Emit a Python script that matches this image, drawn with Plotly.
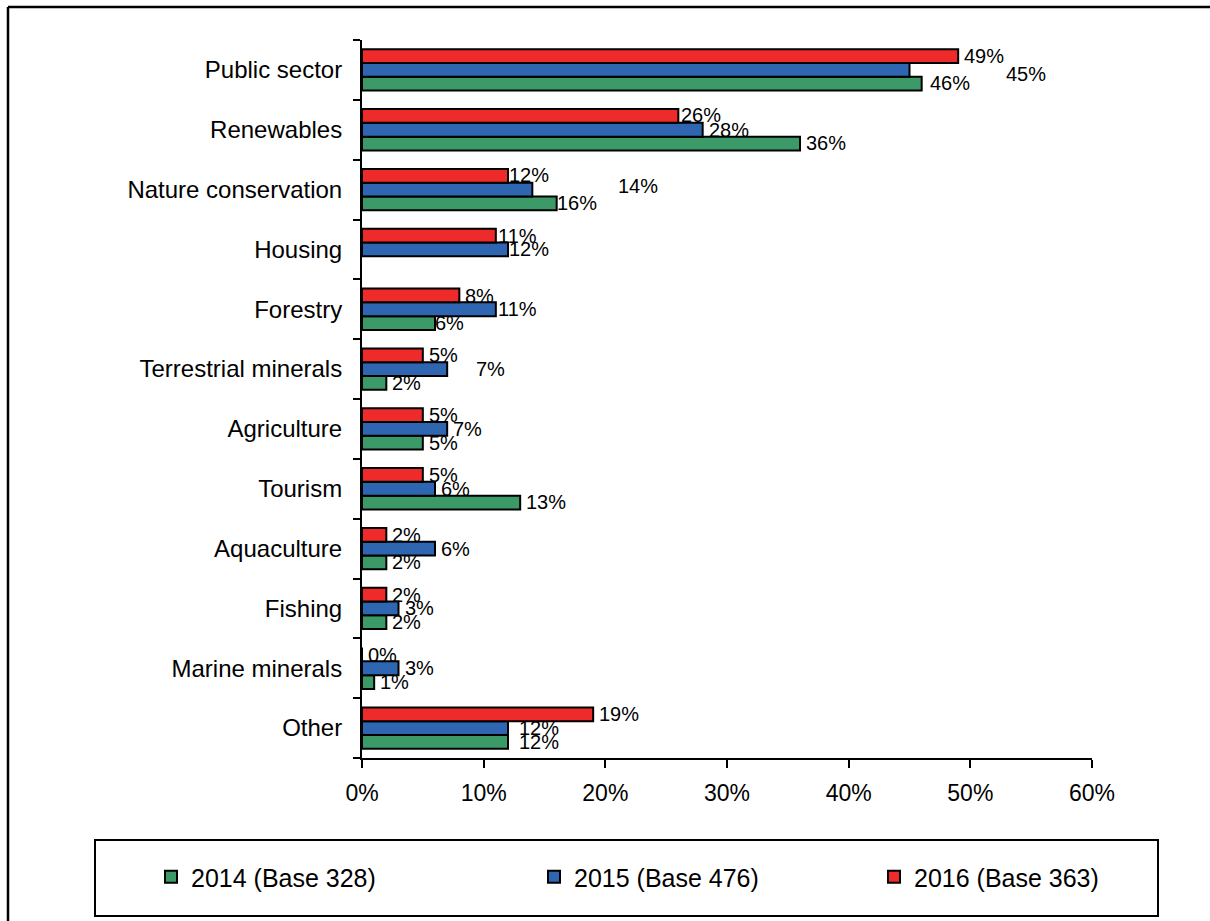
import plotly.graph_objects as go

# ---- data -------------------------------------------------------------
categories = [
    "Public sector", "Renewables", "Nature conservation", "Housing",
    "Forestry", "Terrestrial minerals", "Agriculture", "Tourism",
    "Aquaculture", "Fishing", "Marine minerals", "Other",
]
values_2014 = [46, 36, 16, None, 6, 2, 5, 13, 2, 2, 1, 12]
values_2015 = [45, 28, 14, 12, 11, 7, 7, 6, 6, 3, 3, 12]
values_2016 = [49, 26, 12, 11, 8, 5, 5, 5, 2, 2, 0, 19]
series_names = ["2014 (Base 328)", "2015 (Base 476)", "2016 (Base 363)"]
x_tick_values = [0, 10, 20, 30, 40, 50, 60]
x_tick_labels = [f"{v}%" for v in x_tick_values]

# ---- styling / geometry ----------------------------------------------
W, H = 1210, 921
PL, PR, PT, PB = 362, 1092, 40, 758          # plot area in pixels
FONT = "Liberation Sans, Arial, Helvetica, sans-serif"
colors = ["#3C9A68", "#2E66B2", "#EE2A2A"]
slot_shift = [-13.7, 0.0, 13.7]              # vertical offset of each bar inside a group
legend_px = [151, 534, 874]                  # left edge of each legend entry
legend_names = ["legend", "legend2", "legend3"]
label_gap = 5                                # default space between bar end and its label

# labels nudged away from the default spot: (series, category) -> (dx, dy),
# dy measured downwards in pixels
label_nudges = {
    (1, "Public sector"): (90, 4),
    (0, "Public sector"): (2, -1),
    (2, "Renewables"): (-3, -1),
    (1, "Nature conservation"): (80, -4),
    (2, "Nature conservation"): (-5, -1),
    (0, "Nature conservation"): (-6, 0),
    (2, "Housing"): (-4, 0),
    (1, "Housing"): (-5, 0),
    (1, "Forestry"): (-4, 0),
    (0, "Forestry"): (-6, 0),
    (1, "Terrestrial minerals"): (23, 0),
    (0, "Other"): (5, 0),
    (1, "Other"): (5, 0),
}


def px_x(x):
    return (x - PL) / (PR - PL)


def px_y(y):
    return (PB - y) / (PB - PT)


fig = go.Figure()
annotations = []
series_values = [values_2014, values_2015, values_2016]

for s, (name, vals, col) in enumerate(zip(series_names, series_values, colors)):
    fig.add_trace(go.Bar(
        y=categories, x=vals, orientation="h", name=name,
        marker=dict(color=col, line=dict(color="black", width=2)),
        hoverinfo="skip", legend=legend_names[s],
    ))
    # value labels next to each bar end
    for cat, v in zip(categories, vals):
        if v is None:
            continue
        dx, dy = label_nudges.get((s, cat), (0, 0))
        annotations.append(dict(
            x=v, y=cat, xref="x", yref="y", text=f"{v}%",
            showarrow=False, xanchor="left", yanchor="middle",
            xshift=label_gap + dx, yshift=slot_shift[s] - dy,
            borderpad=0,
            font=dict(family=FONT, size=20, color="black"),
        ))

# outer frame (top and left edges) and legend box
shapes = [
    dict(type="line", xref="paper", yref="paper",
         x0=px_x(8), x1=px_x(1215), y0=px_y(7), y1=px_y(7),
         line=dict(color="black", width=2.5)),
    dict(type="line", xref="paper", yref="paper",
         x0=px_x(8), x1=px_x(8), y0=px_y(7), y1=px_y(925),
         line=dict(color="black", width=2.5)),
    dict(type="rect", xref="paper", yref="paper",
         x0=px_x(95), x1=px_x(1158), y0=px_y(840), y1=px_y(916),
         line=dict(color="black", width=2), fillcolor="rgba(0,0,0,0)"),
]

legend_common = dict(
    orientation="h", yanchor="middle", xanchor="left", y=px_y(877),
    font=dict(family=FONT, size=25, color="black"),
    bgcolor="rgba(0,0,0,0)", borderwidth=0,
)

fig.update_layout(
    width=W, height=H,
    margin=dict(l=PL, r=W - PR, t=PT, b=H - PB, pad=0),
    paper_bgcolor="white", plot_bgcolor="white",
    font=dict(family=FONT, color="black"),
    barmode="group", bargap=0.31, bargroupgap=0,
    showlegend=True,
    legend=dict(x=px_x(legend_px[0]), **legend_common),
    legend2=dict(x=px_x(legend_px[1]), **legend_common),
    legend3=dict(x=px_x(legend_px[2]), **legend_common),
    xaxis=dict(
        range=[0, 60], tickvals=x_tick_values, ticktext=x_tick_labels,
        ticks="outside", ticklen=8, tickwidth=2, tickcolor="black",
        showline=True, linecolor="black", linewidth=2,
        showgrid=False, zeroline=False,
        tickfont=dict(family=FONT, size=23, color="black"),
        ticklabelstandoff=5,
    ),
    yaxis=dict(
        type="category", categoryorder="array", categoryarray=categories[::-1],
        tickson="boundaries", ticks="outside", ticklen=7, tickwidth=2,
        tickcolor="black", showline=True, linecolor="black", linewidth=2,
        showgrid=False, zeroline=False,
        tickfont=dict(family=FONT, size=24, color="black"),
        ticklabelstandoff=13,
    ),
    shapes=shapes,
    annotations=annotations,
)

fig.write_html("out.html", config={"displayModeBar": False})
